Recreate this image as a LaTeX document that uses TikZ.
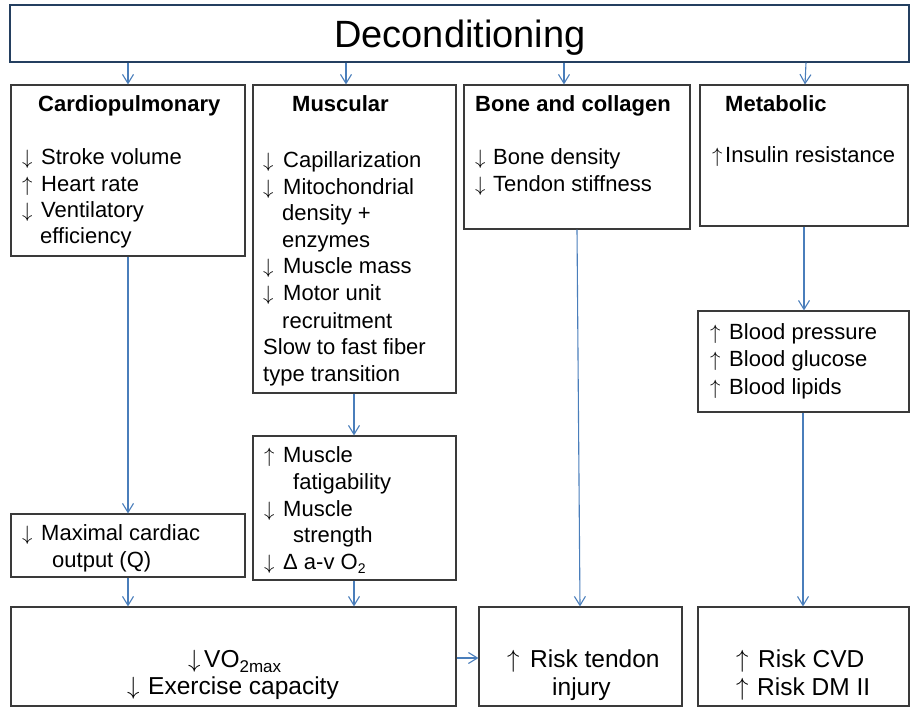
\documentclass[tikz,border=0pt]{standalone}
\usepackage{fontspec}
\setmainfont{Liberation Sans}
\usetikzlibrary{arrows.meta}
\definecolor{conncol}{HTML}{4A7EBB}
\definecolor{topcol}{HTML}{243F60}
\definecolor{boxcol}{HTML}{3A3A3A}
\newcommand\dnarr[1][19pt]{\makebox[#1][l]{$\downarrow$}}
\newcommand\uparr[1][19pt]{\makebox[#1][l]{$\uparrow$}}
\begin{document}
\begin{tikzpicture}[x=1pt,y=-1pt,
  box/.style={draw=boxcol,line width=1.1pt,rectangle,inner sep=0pt},
  conn/.style={draw=conncol,line width=1.1pt,-{Straight Barb[length=9pt,width=11pt]}},
  txt/.style={anchor=base west,inner sep=0pt,font=\fontsize{22}{26}\selectfont},
  hdr/.style={anchor=base west,inner sep=0pt,font=\fontsize{22}{26}\selectfont\bfseries},
  big/.style={anchor=base west,inner sep=0pt,font=\fontsize{24.5}{28}\selectfont}]
\useasboundingbox (0,0) rectangle (912,708);
% boxes
\node[box,draw=topcol,minimum width=899pt,minimum height=57pt] (top) at (459.5,33.5) {};
\node[box,minimum width=234pt,minimum height=171pt] (card) at (128,170.5) {};
\node[box,minimum width=203pt,minimum height=308pt] (musc) at (354.5,239) {};
\node[box,minimum width=226pt,minimum height=144pt] (bone) at (577,157) {};
\node[box,minimum width=208pt,minimum height=141pt] (meta) at (804,155.5) {};
\node[box,minimum width=211pt,minimum height=101pt] (blood) at (803.5,361.5) {};
\node[box,minimum width=234pt,minimum height=63pt] (maxc) at (128,545.5) {};
\node[box,minimum width=203pt,minimum height=144pt] (fatig) at (354.5,508) {};
\node[box,minimum width=445pt,minimum height=99pt] (vo) at (233.5,656.5) {};
\node[box,minimum width=203pt,minimum height=99pt] (tendon) at (580.5,656.5) {};
\node[box,minimum width=211pt,minimum height=99pt] (cvd) at (803.5,656.5) {};
% title
\node[anchor=base,inner sep=0pt,font=\fontsize{38}{44}\selectfont] (title) at (460,48) {Deconditioning};
% cardiopulmonary
\node[hdr] (c0) at (38,112) {Cardiopulmonary};
\node[txt] (c1) at (22,165) {\dnarr Stroke volume};
\node[txt] (c2) at (22,192) {\uparr Heart rate};
\node[txt] (c3) at (22,218) {\dnarr Ventilatory};
\node[txt] (c4) at (40,244) {efficiency};
% muscular
\node[hdr] (m0) at (292,112) {Muscular};
\node[txt] (m1) at (263,168) {\dnarr[20pt]Capillarization};
\node[txt] (m2) at (263,195) {\dnarr[20pt]Mitochondrial};
\node[txt] (m3) at (282,221) {density +};
\node[txt] (m4) at (282,248) {enzymes};
\node[txt] (m5) at (263,274) {\dnarr[20pt]Muscle mass};
\node[txt] (m6) at (263,301) {\dnarr[20pt]Motor unit};
\node[txt] (m7) at (282,328) {recruitment};
\node[txt] (m8) at (263,354) {Slow to fast fiber};
\node[txt] (m9) at (263,381) {type transition};
% bone
\node[hdr] (b0) at (475,112) {Bone and collagen};
\node[txt] (b1) at (475,165) {\dnarr[18pt]Bone density};
\node[txt] (b2) at (475,192) {\dnarr[18pt]Tendon stiffness};
% metabolic
\node[hdr] (e0) at (725,112) {Metabolic};
\node[txt] (e1) at (712,163) {\uparr[13pt]Insulin resistance};
% blood
\node[txt] (l1) at (710,339) {\uparr Blood pressure};
\node[txt] (l2) at (710,366) {\uparr Blood glucose};
\node[txt] (l3) at (710,394) {\uparr Blood lipids};
% fatigability
\node[txt] (f1) at (264,462) {\uparr Muscle};
\node[txt] (f2) at (293,489) {fatigability};
\node[txt] (f3) at (264,516) {\dnarr Muscle};
\node[txt] (f4) at (293,542) {strength};
\node[txt] (f5) at (264,569) {\dnarr Δ a-v O\raisebox{-4pt}{\fontsize{14}{14}\selectfont 2}};
% maximal cardiac output
\node[txt] (x1) at (22,540) {\dnarr Maximal cardiac};
\node[txt] (x2) at (52,567) {output (Q)};
% bottom row
\node[big] (v1) at (188,667) {\dnarr[16pt]VO\raisebox{-5pt}{\fontsize{17}{17}\selectfont 2max}};
\node[big] (v2) at (127,694) {\dnarr[21pt]Exercise capacity};
\node[big] (t1) at (507,667) {\uparr[23pt]Risk tendon};
\node[big] (t2) at (552,695) {injury};
\node[big] (r1) at (736,667) {\uparr[22pt]Risk CVD};
\node[big] (r2) at (736,695) {\uparr[21pt]Risk DM II};
% connectors
\draw[conn] (top.south -| 128,0) -- (card.north -| 128,0);
\draw[conn] (top.south -| 346,0) -- (musc.north -| 346,0);
\draw[conn] (top.south -| 564,0) -- (bone.north -| 564,0);
\draw[conn] (top.south -| 806,0) -- (meta.north -| 805,0);
\draw[conn] (card.south -| 128,0) -- (maxc.north -| 128,0);
\draw[conn] (musc.south -| 354,0) -- (fatig.north -| 354,0);
\draw[conn] (maxc.south -| 128,0) -- (vo.north -| 128,0);
\draw[conn] (fatig.south -| 354,0) -- (vo.north -| 354,0);
\draw[conn] (bone.south -| 577,0) -- (tendon.north -| 580,0);
\draw[conn] (meta.south -| 804,0) -- (blood.north -| 804,0);
\draw[conn] (blood.south -| 803,0) -- (cvd.north -| 803,0);
\draw[conn] (vo.east |- 0,658) -- (tendon.west |- 0,658);
\end{tikzpicture}
\end{document}
